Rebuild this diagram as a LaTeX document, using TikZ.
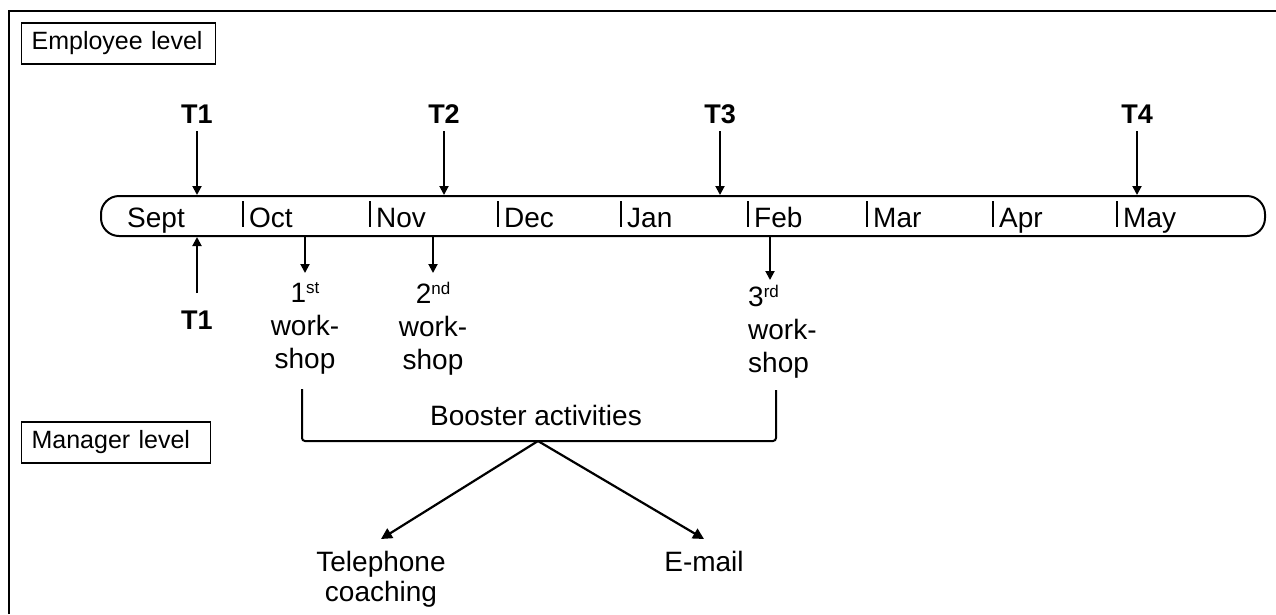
\documentclass[tikz,border=0pt]{standalone}
\usepackage{fontspec}
\setmainfont{Liberation Sans}
\usetikzlibrary{arrows.meta, positioning}
\newcommand{\wsup}[1]{\raisebox{9pt}{\fontsize{17}{17}\selectfont #1}}

\begin{document}
\begin{tikzpicture}
  [
    x=1pt, y=-1pt,
    Month/.style={anchor=base west, inner sep=0pt, font=\fontsize{28}{33}\selectfont},
    Tlabel/.style={anchor=base, inner sep=0pt, font=\fontsize{27}{32}\selectfont\bfseries},
    Box/.style={draw, line width=1.2pt, anchor=west, minimum height=41pt, inner xsep=10pt, inner ysep=0pt, text width=#1, align=left, font=\fontsize{25}{30}\selectfont},
    Work/.style={anchor=north, inner sep=0pt, align=center, font=\fontsize{28}{33}\selectfont},
    Arr/.style={-{Triangle[length=9pt, width=9pt]}, line width=1.9pt},
    BigArr/.style={-{Triangle[length=11pt, width=11pt]}, line width=2.2pt}
  ]
  \useasboundingbox (0,0) rectangle (1276,614);

  % Frame and level boxes
  \draw[line width=2pt] (9,614) -- (9,11) -- (1276,11);
  \node[Box=174pt] (emp) at (21,43.5) {Employee level};
  \node[Box=169pt] (mgr) at (21,442.5) {Manager level};

  % Timeline
  \node[draw, line width=2pt, rounded corners=18pt, minimum width=1164pt, minimum height=40pt, inner sep=0pt] (band) at (683,216) {};
  \node[Month] (mSept) at (127,227) {Sept};
  \foreach \x/\m in {243/Oct, 370/Nov, 498/Dec, 621/Jan, 748/Feb, 867/Mar, 993/Apr, 1117/May} {
    \draw[line width=1.8pt] (\x,201) -- (\x,227);
    \node[Month] (m\m) at (\x+6,227) {\m};
  }

  % Measurement points
  \foreach \x/\t in {197/1, 444/2, 720/3, 1137/4} {
    \node[Tlabel] (tu\t) at (\x,123) {T\t};
    \draw[Arr] ([yshift=-8pt]tu\t.base) -- (tu\t.base |- band.north);
  }
  \node[Tlabel] (tl1) at (197,329) {T1};
  \draw[Arr] ([yshift=36pt]tl1.base) -- (tl1.base |- band.south);

  % Workshops
  \node[Work] (ws1) at (305,282) {1\wsup{st}\\work-\\shop};
  \node[Work] (ws2) at (433,282) {2\wsup{nd}\\work-\\shop};
  \node[Work, anchor=north west, align=left] (ws3) at (748,285) {3\wsup{rd}\\work-\\shop};
  \coordinate (ws3top) at ([xshift=22pt, yshift=5pt]ws3.north west);
  \draw[Arr] (band.south -| ws1.north) -- ([yshift=9pt]ws1.north);
  \draw[Arr] (band.south -| ws2.north) -- ([yshift=9pt]ws2.north);
  \draw[Arr] (band.south -| ws3top) -- (ws3top);

  % Booster activities
  \node[anchor=base, inner sep=0pt, font=\fontsize{28}{33}\selectfont] (boost) at (536,425) {Booster activities};
  \coordinate (brl) at (302,389);
  \coordinate (brr) at (776,390);
  \coordinate (apex) at (538,441);
  \draw[line width=2pt, rounded corners=3pt] (brl) |- (apex) -| (brr);
  \node[Work, font=\fontsize{28}{30}\selectfont] (tel) at (381,551) {Telephone\\coaching};
  \node[anchor=north, inner sep=0pt, font=\fontsize{28}{33}\selectfont] (mail) at (704,551) {E-mail};
  \draw[BigArr] (apex) -- ([yshift=12pt]tel.north);
  \draw[BigArr] (apex) -- ([yshift=12pt]mail.north);

\end{tikzpicture}
\end{document}
